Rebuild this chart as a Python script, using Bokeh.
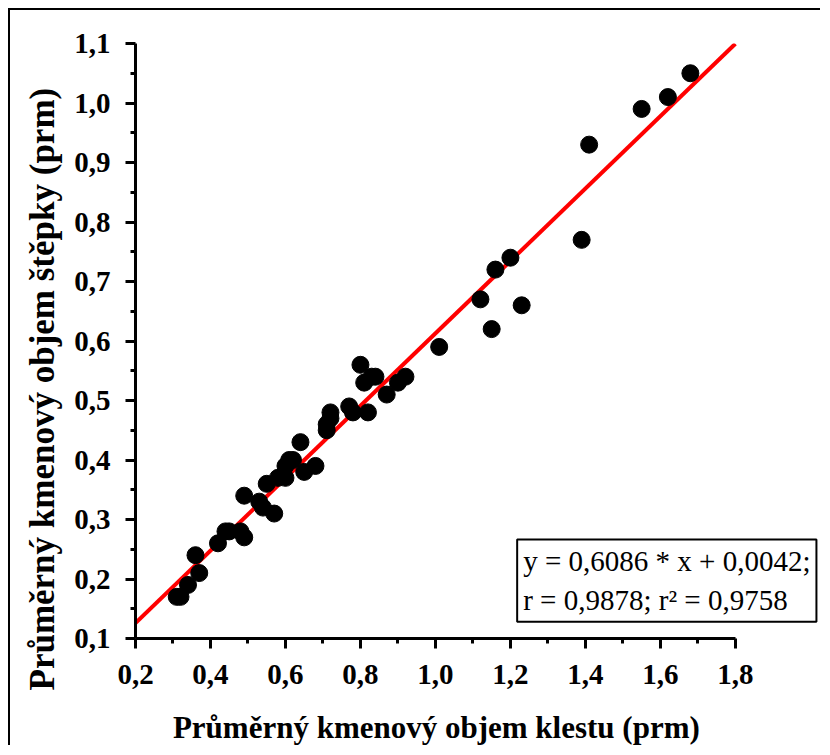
from bokeh.plotting import figure
from bokeh.models import Range1d, FixedTicker, Label, Title
from bokeh.embed import file_html
from bokeh.resources import INLINE

# --- data -----------------------------------------------------------------
klest = [0.31, 0.32, 0.34, 0.37, 0.36, 0.42, 0.44, 0.45, 0.48, 0.49,
         0.49, 0.53, 0.54, 0.55, 0.57, 0.58, 0.60, 0.60, 0.61, 0.62,
         0.64, 0.65, 0.68, 0.71, 0.71, 0.72, 0.72, 0.77, 0.78, 0.82,
         0.80, 0.81, 0.83, 0.84, 0.87, 0.90, 0.92, 1.01, 1.12, 1.15,
         1.16, 1.20, 1.23, 1.39, 1.41, 1.55, 1.62, 1.68]
stepky = [0.17, 0.17, 0.19, 0.21, 0.24, 0.26, 0.28, 0.28, 0.28, 0.27,
          0.34, 0.33, 0.32, 0.36, 0.31, 0.37, 0.37, 0.39, 0.40, 0.40,
          0.43, 0.38, 0.39, 0.45, 0.46, 0.47, 0.48, 0.49, 0.48, 0.48,
          0.56, 0.53, 0.54, 0.54, 0.51, 0.53, 0.54, 0.59, 0.67, 0.62,
          0.72, 0.74, 0.66, 0.77, 0.93, 0.99, 1.01, 1.05]

slope = 0.6086
intercept = 0.0042
fit_x = [0.2, 1.8]

x_ticks = [0.2, 0.4, 0.6, 0.8, 1.0, 1.2, 1.4, 1.6, 1.8]
x_tick_labels = ["0,2", "0,4", "0,6", "0,8", "1,0", "1,2", "1,4", "1,6", "1,8"]
y_ticks = [0.1, 0.2, 0.3, 0.4, 0.5, 0.6, 0.7, 0.8, 0.9, 1.0, 1.1]
y_tick_labels = ["0,1", "0,2", "0,3", "0,4", "0,5", "0,6", "0,7", "0,8", "0,9", "1,0", "1,1"]
x_minor = [0.3, 0.5, 0.7, 0.9, 1.1, 1.3, 1.5, 1.7]
y_minor = [0.15, 0.25, 0.35, 0.45, 0.55, 0.65, 0.75, 0.85, 0.95, 1.05]

eq_text = "y = 0,6086 * x + 0,0042;\nr = 0,9878; r\u00b2 = 0,9758"

x_title = "Průměrný kmenový objem klestu (prm)"
y_title = "Průměrný kmenový objem štěpky (prm)"

NBSP = "\u00a0"

# --- figure ---------------------------------------------------------------
p = figure(width=812, height=737, output_backend="svg", toolbar_location=None,
           x_range=Range1d(0.2, 2.0324), y_range=Range1d(0.1, 1.1),
           min_border_left=123, min_border_right=0,
           min_border_top=33, min_border_bottom=107)
p.styles = {"margin-left": "8px", "margin-top": "8px",
            "border-left": "2px solid black", "border-top": "2px solid black"}
p.outline_line_color = None
p.background_fill_color = "white"
p.border_fill_color = "white"
p.xgrid.visible = False
p.ygrid.visible = False

fit_y = [slope * v + intercept for v in fit_x]
p.line(fit_x, fit_y, line_color="#ff0000", line_width=4)
p.scatter(klest, stepky, size=17, fill_color="black", line_color="black")

for ax, ticks, labels, minor in ((p.xaxis[0], x_ticks, x_tick_labels, x_minor),
                                 (p.yaxis[0], y_ticks, y_tick_labels, y_minor)):
    ax.ticker = FixedTicker(ticks=ticks, minor_ticks=minor)
    ax.bounds = (ticks[0], ticks[-1])
    ax.major_label_overrides = {t: l for t, l in zip(ticks, labels)}
    ax.axis_line_width = 3
    ax.axis_line_color = "black"
    ax.major_tick_line_width = 3
    ax.minor_tick_line_width = 3
    ax.major_tick_out = 10
    ax.major_tick_in = 0
    ax.minor_tick_out = 5
    ax.minor_tick_in = 0
    ax.major_label_text_font = "Liberation Serif"
    ax.major_label_text_font_style = "bold"
    ax.major_label_text_font_size = "29px"
    ax.major_label_text_color = "black"
    ax.axis_label_text_font = "Liberation Serif"
    ax.axis_label_text_font_style = "bold"
    ax.axis_label_text_color = "black"

p.xaxis.axis_label = x_title + NBSP * 11
p.xaxis.axis_label_text_font_size = "31px"
p.xaxis.major_label_standoff = 16
p.yaxis.major_label_standoff = 15
p.xaxis.axis_label_standoff = 23

yt = Title(text=y_title, align="left", offset=-52, standoff=20,
           text_font="Liberation Serif", text_font_style="bold",
           text_font_size="35px", text_color="black")
p.add_layout(yt, "left")

eq = Label(x=1.218, y=0.128, text=eq_text, text_align="left", text_baseline="bottom",
           text_font="Liberation Serif", text_font_size="29px", text_color="black",
           text_line_height=1.2,
           background_fill_color="white", border_line_color="black",
           border_line_width=2, padding=6)
p.add_layout(eq)

open("out.html", "w").write(file_html(p, INLINE))
